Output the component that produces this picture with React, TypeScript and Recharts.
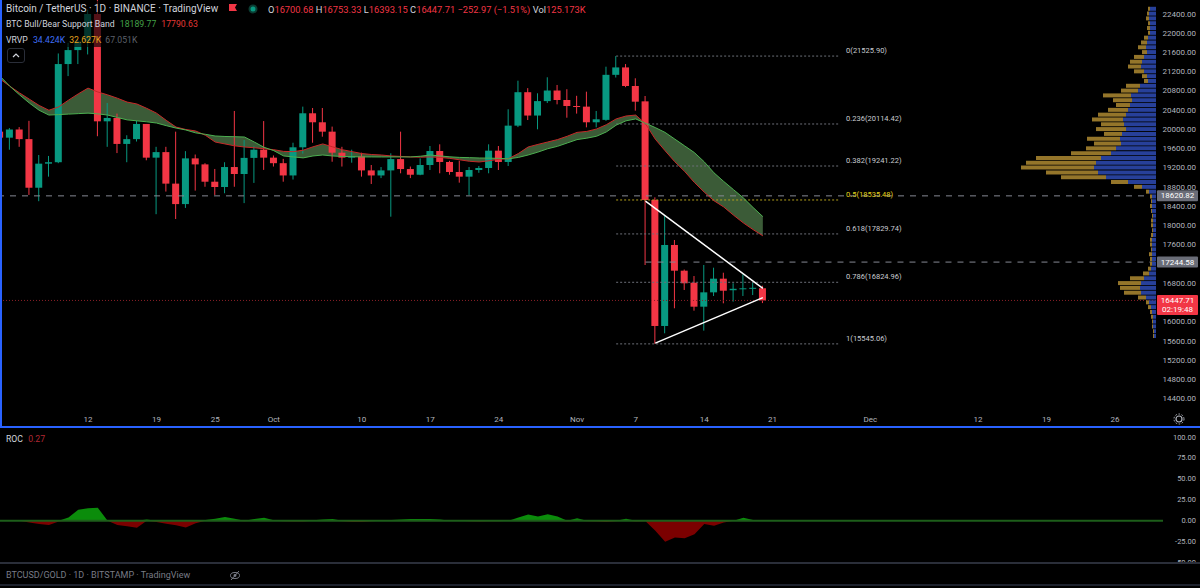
import React from 'react';
import { ComposedChart, BarChart, Bar, Area, Line, XAxis, YAxis, ReferenceLine } from 'recharts';

// days are counted from Sep 12 (the "12" tick); first candle is Sep 3
const FIRST_DAY = -9;
const UP = '#089981';
const DOWN = '#f23645';
const TEXT = '#d1d4dc';
const AXIS_TEXT = '#b2b5be';
const FONT = 'Roboto, "Noto Sans", sans-serif';

const X_DOMAIN: [number, number] = [-9, 109.2];
const Y_DOMAIN: [number, number] = [14171, 22691];

const opens = [
  19955, 19830, 20000, 19800, 18790, 19290, 19320, 21360, 21650, 21830,
  22400, 20170, 20240, 19700, 19800, 20115, 19415, 19530, 18875, 18450,
  19400, 19275, 18915, 18805, 19220, 19075, 19410, 19580, 19415, 19300,
  19045, 19630, 20337, 20150, 19955, 19518, 19415, 19440, 19150, 19045,
  19150, 19385, 19178, 19060, 19262, 19553, 19325, 19117, 19020, 19158,
  19200, 19560, 19325, 20080, 20775, 20290, 20590, 20810, 20613, 20488,
  20475, 20150, 20200, 21136, 21290, 20904, 20585, 18535, 15917, 17600,
  17066, 16816, 16318, 16616, 16900, 16660, 16690, 16700, 16700.68,
];
const highs = [
  20000, 20030, 20050, 20180, 19470, 19450, 21580, 21800, 21860, 22490,
  22800, 20550, 20330, 19880, 20180, 20115, 19640, 19640, 19955, 19550,
  19480, 19300, 19180, 19320, 20385, 19780, 19650, 20175, 19460, 19390,
  19725, 20475, 20447, 20447, 20060, 19640, 19580, 19518, 19262, 19220,
  19505, 19955, 19230, 19400, 19657, 19692, 19350, 19350, 19220, 19240,
  19692, 19657, 20420, 21014, 20860, 20752, 21085, 20925, 20837, 20700,
  20786, 20385, 21305, 21525.9, 21360, 21064, 20696, 18590, 18202, 17704,
  17090, 16955, 17184, 17128, 17024, 16804, 16990, 16820, 16753.33,
];
const lows = [
  19780, 19580, 19640, 18640, 18510, 19020, 19300, 21110, 21360, 21560,
  19860, 19640, 19510, 19320, 19750, 19360, 18240, 18710, 18140, 18370,
  18730, 18810, 18640, 18675, 18810, 18470, 18890, 19160, 19230, 18915,
  18960, 19500, 19725, 19850, 19330, 19230, 19310, 19020, 18868, 18990,
  18188, 19090, 18990, 19050, 19158, 19090, 19060, 18895, 18633, 19100,
  19090, 19158, 19242, 20050, 20197, 20004, 20550, 20523, 20245, 20330,
  20045, 20045, 20180, 21080, 20880, 20391, 17184, 15545.06, 15765, 16285,
  16665, 16235, 15820, 16540, 16388, 16422, 16540, 16560, 16393.15,
];
const closes = [
  19830, 20000, 19800, 18790, 19290, 19320, 21360, 21650, 21830, 22400,
  20170, 20240, 19700, 19800, 20115, 19415, 19530, 18875, 18450, 19400,
  19275, 18915, 18805, 19220, 19075, 19410, 19580, 19415, 19300, 19045,
  19630, 20337, 20150, 19955, 19518, 19415, 19440, 19150, 19045, 19150,
  19385, 19178, 19060, 19262, 19553, 19325, 19117, 19020, 19158, 19200,
  19560, 19325, 20080, 20775, 20290, 20590, 20810, 20613, 20488, 20470,
  20150, 20212, 21136, 21290, 20904, 20578, 18535, 15917, 17600, 17066,
  16804, 16318, 16616, 16900, 16650, 16690, 16700, 16710, 16447.71,
];

// BTC Bull/Bear Support Band
const bandGreen = [
  21110, 20900, 20720, 20550, 20400, 20300, 20310, 20320, 20330, 20340,
  20325, 20300, 20250, 20200, 20180, 20160, 20135, 20080, 20030, 19990,
  19930, 19900, 19865, 19855, 19850, 19844, 19740, 19630, 19560, 19450,
  19430, 19410, 19450, 19470, 19450, 19440, 19435, 19430, 19430, 19429,
  19430, 19430, 19430, 19445, 19470, 19450, 19432, 19420, 19415, 19408,
  19405, 19400, 19390, 19420, 19470, 19530, 19600, 19650, 19720, 19790,
  19820, 19860, 19950, 20090, 20180, 20220, 20130, 20040, 19940, 19800,
  19660, 19520, 19330, 19100, 18920, 18750, 18580, 18380, 18189.77,
];
const bandRed = [
  21050, 20900, 20760, 20630, 20500, 20400, 20470, 20610, 20740, 20860,
  20780, 20720, 20650, 20570, 20530, 20440, 20340, 20190, 20050, 20000,
  19970, 19880, 19740, 19700, 19660, 19636, 19620, 19600, 19580, 19545,
  19540, 19570, 19640, 19700, 19640, 19580, 19540, 19500, 19480, 19470,
  19450, 19440, 19430, 19425, 19430, 19420, 19400, 19370, 19340, 19325,
  19350, 19380, 19395, 19500, 19636, 19690, 19740, 19790, 19860, 19940,
  19960, 20010, 20100, 20220, 20280, 20300, 20120, 19800, 19560, 19330,
  19130, 18900, 18700, 18520, 18390, 18220, 18060, 17920, 17790.63,
];

// ROC of BTCUSD/GOLD (lower chart)
const rocValues = [
  1, 0.5, 0, -2, -4, -5, -1, 4, 13, 15,
  15.5, 0, -5, -6.5, -8.3, 1.5, -1.5, -3.5, -5.5, -8,
  -3, 1, 2.5, 4.4, 2.5, -0.5, 2, 3.5, 0.5, -0.5,
  -1, -1, 0.5, 1.5, 2, -0.5, -1.5, -1.5, -0.5, 0.5,
  1, 1.5, 2, 2, 2, 1.5, 0, 0.5, -0.5, -1,
  -0.5, -0.5, 0, 4, 7.5, 5, 7.6, 5, -1, 3,
  -0.5, -1, -1.5, -0.5, 2.5, -1, -0.5, -12, -25, -20,
  -21, -16, -4, -6, -2, 0, 3.5, 1, 0.27,
];

const tickDays = [0, 7, 13, 19, 28, 35, 42, 50, 56, 63, 70, 80, 91, 98, 105];
const tickLabels = ['12', '19', '25', 'Oct', '10', '17', '24', 'Nov', '7', '14', '21', 'Dec', '12', '19', '26'];
const priceTicks = [14400, 14800, 15200, 15600, 16000, 16800, 17600, 18000, 18400, 18800, 19200, 19600, 20000, 20400, 20800, 21200, 21600, 22000, 22400];
const rocTicks = [-50, -25, 0, 25, 50, 75, 100];

const fibRatios = ['0', '0.236', '0.382', '0.5', '0.618', '0.786', '1'];
const fibPrices = [21525.9, 20114.42, 19241.22, 18535.48, 17829.74, 16824.96, 15545.06];

// visible range volume profile, rows of 100
const profilePrices = [
  22500, 22400, 22300, 22200, 22100, 22000, 21900, 21800, 21700, 21600,
  21500, 21400, 21300, 21200, 21100, 21000, 20900, 20800, 20700, 20600,
  20500, 20400, 20300, 20200, 20100, 20000, 19900, 19800, 19700, 19600,
  19500, 19400, 19300, 19200, 19100, 19000, 18900, 18800, 18700, 18600,
  18500, 18400, 18300, 18200, 18100, 18000, 17900, 17800, 17700, 17600,
  17500, 17400, 17300, 17200, 17100, 17000, 16900, 16800, 16700, 16600,
  16500, 16400, 16300, 16200, 16100, 16000, 15900, 15800, 15700,
];
const profileUp = [
  6, 7, 7, 6, 6, 6, 8, 9, 10, 9,
  12, 14, 15, 12, 9, 8, 16, 18, 25, 24,
  26, 28, 30, 33, 32, 30, 34, 36, 35, 40,
  45, 55, 60, 62, 58, 50, 28, 14, 7, 4,
  4, 4, 4, 3, 3, 3, 3, 3, 4, 4,
  4, 4, 4, 4, 5, 7, 12, 15, 16, 15,
  10, 7, 5, 4, 3, 3, 3, 2, 2,
];
const profileDown = [
  2, 2, 3, 2, 3, 2, 4, 6, 8, 5,
  10, 12, 13, 10, 5, 4, 14, 17, 28, 19,
  14, 20, 28, 31, 23, 30, 18, 33, 27, 30,
  40, 65, 70, 73, 52, 45, 17, 8, 3, 2,
  1, 2, 1, 1, 2, 2, 1, 2, 2, 2,
  1, 3, 2, 2, 3, 6, 14, 23, 20, 17,
  8, 3, 3, 2, 2, 1, 1, 1, 1,
];

const rows = opens.map((open, i) => ({
  d: FIRST_DAY + i,
  open,
  high: highs[i],
  low: lows[i],
  close: closes[i],
  range: [lows[i], highs[i]],
  green: bandGreen[i],
  red: bandRed[i],
  band: [bandRed[i], bandGreen[i]],
  rocPos: Math.max(rocValues[i], 0),
  rocNeg: Math.min(rocValues[i], 0),
}));

const profileRows = profilePrices.map((price, i) => ({ price, up: profileUp[i], down: profileDown[i] }));

const Candle = (props: any) => {
  const { x, y, width, height, payload } = props;
  if (x == null || y == null) return null;
  const top = Math.min(y, y + height);
  const h = Math.abs(height);
  const span = payload.high - payload.low || 1;
  const py = (v: number) => top + ((payload.high - v) / span) * h;
  const cx = x + width / 2;
  const color = payload.close >= payload.open ? UP : DOWN;
  const bTop = py(Math.max(payload.open, payload.close));
  const bBot = py(Math.min(payload.open, payload.close));
  return (
    <g>
      <line x1={cx} x2={cx} y1={top} y2={top + h} stroke={color} strokeWidth={1} />
      <rect x={cx - 3.5} y={bTop} width={7} height={Math.max(1, bBot - bTop)} fill={color} />
    </g>
  );
};

const DateTick = ({ x, y, payload }: any) => (
  <text x={x} y={y + 1} textAnchor="middle" dominantBaseline="central" fill={AXIS_TEXT} fontSize={8} fontFamily={FONT}>
    {tickLabels[tickDays.indexOf(payload.value)]}
  </text>
);

const PriceTick = ({ y, payload }: any) => (
  <text x={1196} y={y} textAnchor="end" dominantBaseline="central" fill={AXIS_TEXT} fontSize={8} fontFamily={FONT}>
    {payload.value.toFixed(2)}
  </text>
);

const RocTick = ({ y, payload }: any) => (
  <text x={1196} y={y} textAnchor="end" dominantBaseline="central" fill={AXIS_TEXT} fontSize={7.5} fontFamily={FONT}>
    {payload.value.toFixed(2)}
  </text>
);

const fibLabel = (text: string, color: string) => (props: any) => {
  const vb = props.viewBox;
  return (
    <text x={vb.x + vb.width + 6} y={vb.y - 3} fill={color} fontSize={7.5} fontFamily={FONT}>
      {text}
    </text>
  );
};

const axisBox = (text: string, bg: string, sub?: string) => (props: any) => {
  const vb = props.viewBox;
  const x = vb.x + vb.width;
  const y = vb.y;
  return (
    <g>
      <rect x={x + 1} y={y - 5.5} width={41} height={sub ? 20 : 11} fill={bg} rx={1} />
      <text x={x + 21.5} y={y} textAnchor="middle" dominantBaseline="central" fill="#fff" fontSize={8} fontFamily={FONT}>
        {text}
      </text>
      {sub && (
        <text x={x + 21.5} y={y + 9.5} textAnchor="middle" dominantBaseline="central" fill="#fff" fontSize={8} fontFamily={FONT}>
          {sub}
        </text>
      )}
    </g>
  );
};

const abs = (left: number, top: number, extra: any = {}) => ({ position: 'absolute' as const, left, top, ...extra });

export default function App() {
  return (
    <div style={{ position: 'absolute', left: 0, top: 0, width: 1200, height: 588, background: '#000', overflow: 'hidden', fontFamily: FONT }}>
      <style>{'body{margin:0;background:#000;}'}</style>

      <div style={abs(0, 0)}>
        <ComposedChart width={1200} height={428} data={rows} margin={{ top: 0, right: 0, bottom: 0, left: 0 }}>
          <XAxis dataKey="d" type="number" domain={X_DOMAIN} ticks={tickDays} interval={0} height={18} tickLine={false} axisLine={false} tick={<DateTick />} allowDataOverflow />
          <YAxis orientation="right" width={44} domain={Y_DOMAIN} ticks={priceTicks} interval={0} tickLine={false} axisLine={false} tick={<PriceTick />} allowDataOverflow />
          <ReferenceLine y={18620.82} stroke="#868993" strokeDasharray="6 6" label={axisBox('18620.82', '#6a6d78')} />
          <ReferenceLine segment={[{ x: 57, y: 17244.58 }, { x: 109.2, y: 17244.58 }]} stroke="#868993" strokeDasharray="6 6" label={axisBox('17244.58', '#6a6d78')} />
          <ReferenceLine y={16447.71} stroke="#8a1f27" strokeDasharray="1 2" label={axisBox('16447.71', DOWN, '02:19:48')} />
          {fibPrices.map((p, i) => (
            <ReferenceLine
              key={fibRatios[i]}
              segment={[{ x: 54, y: p }, { x: 76.9, y: p }]}
              stroke={fibRatios[i] === '0.5' ? '#b5a11c' : '#6d7079'}
              strokeDasharray="2 2"
              label={fibLabel(`${fibRatios[i]}(${p.toFixed(2)})`, fibRatios[i] === '0.5' ? '#e3d31b' : '#c9cbd1')}
            />
          ))}
          <Area dataKey="band" type="linear" stroke="none" fill="#3b5b37" fillOpacity={1} isAnimationActive={false} />
          <Line dataKey="red" type="linear" stroke="#c62828" strokeWidth={1} dot={false} isAnimationActive={false} />
          <Line dataKey="green" type="linear" stroke="#4caf50" strokeWidth={1} dot={false} isAnimationActive={false} />
          <Bar dataKey="range" barSize={7} shape={(p: any) => <Candle {...p} />} isAnimationActive={false} />
          <ReferenceLine segment={[{ x: 57, y: 18510 }, { x: 69, y: 16700 }]} stroke="#ffffff" strokeWidth={1.5} />
          <ReferenceLine segment={[{ x: 58, y: 15560 }, { x: 69, y: 16505 }]} stroke="#ffffff" strokeWidth={1.5} />
        </ComposedChart>
      </div>

      <div style={abs(0, 0, { pointerEvents: 'none' })}>
        <BarChart layout="vertical" width={1156} height={410} data={profileRows} margin={{ top: 0, right: 0, bottom: 0, left: 0 }}>
          <XAxis type="number" domain={[0, 1156]} reversed hide />
          <YAxis type="number" dataKey="price" domain={Y_DOMAIN} reversed hide allowDataOverflow />
          <Bar dataKey="up" stackId="v" fill="#27409a" barSize={4} isAnimationActive={false} />
          <Bar dataKey="down" stackId="v" fill="#94752a" barSize={4} isAnimationActive={false} />
        </BarChart>
      </div>

      {/* legend backgrounds */}
      <div style={abs(3, 1, { width: 595, height: 16, background: 'rgba(0,0,0,0.65)' })} />
      <div style={abs(3, 17, { width: 188, height: 15, background: 'rgba(0,0,0,0.65)' })} />
      <div style={abs(3, 32, { width: 130, height: 15, background: 'rgba(0,0,0,0.65)' })} />

      <div style={abs(6, 3, { fontSize: 10, color: TEXT, whiteSpace: 'nowrap', lineHeight: '12px' })}>
        Bitcoin / TetherUS · 1D · BINANCE · TradingView
      </div>
      <svg style={abs(229, 4)} width={10} height={10}>
        <path d="M0 0 H8 L6 3.5 L8 7 H0 Z" fill={DOWN} />
      </svg>
      <svg style={abs(248, 4)} width={10} height={10}>
        <circle cx={5} cy={5} r={4.5} fill="#0b3d33" />
        <circle cx={5} cy={5} r={2.5} fill={UP} />
      </svg>
      <div style={abs(268, 4, { fontSize: 9.3, color: DOWN, whiteSpace: 'nowrap', lineHeight: '11px' })}>
        <span style={{ color: TEXT }}>O</span>16700.68 <span style={{ color: TEXT }}>H</span>16753.33{' '}
        <span style={{ color: TEXT }}>L</span>16393.15 <span style={{ color: TEXT }}>C</span>16447.71 −252.97 (−1.51%){' '}
        <span style={{ color: TEXT }}>Vol</span>125.173K
      </div>
      <div style={abs(6, 19, { fontSize: 8.7, color: TEXT, whiteSpace: 'nowrap', lineHeight: '11px' })}>
        BTC Bull/Bear Support Band <span style={{ color: '#43a047', marginLeft: 3 }}>18189.77</span>
        <span style={{ color: '#e53935', marginLeft: 5 }}>17790.63</span>
      </div>
      <div style={abs(6, 35, { fontSize: 8.7, color: TEXT, whiteSpace: 'nowrap', lineHeight: '11px' })}>
        VRVP <span style={{ color: '#3f6ef5', marginLeft: 3 }}>34.424K</span>
        <span style={{ color: '#e6a41e', marginLeft: 4 }}>32.627K</span>
        <span style={{ color: '#5d606b', marginLeft: 4 }}>67.051K</span>
      </div>
      <div style={abs(7, 48, { width: 16, height: 13, border: '1px solid #2a2e39', borderRadius: 3 })}>
        <svg width={16} height={13} style={{ display: 'block' }}>
          <polyline points="5,8 8,5 11,8" fill="none" stroke={TEXT} strokeWidth={1.2} />
        </svg>
      </div>
      <svg style={abs(1173, 413)} width={12} height={12}>
        <circle cx={6} cy={6} r={3} fill="none" stroke={AXIS_TEXT} strokeWidth={1.2} />
        <circle cx={6} cy={6} r={5} fill="none" stroke={AXIS_TEXT} strokeWidth={1} strokeDasharray="1.6 1.6" />
      </svg>

      {/* selected chart frame */}
      <div style={abs(0, 0, { width: 2, height: 428, background: '#2962ff' })} />
      <div style={abs(0, 426, { width: 1200, height: 2, background: '#2962ff' })} />

      <div style={abs(0, 428)}>
        <ComposedChart width={1200} height={135} data={rows} margin={{ top: 0, right: 0, bottom: 0, left: 0 }}>
          <XAxis dataKey="d" type="number" domain={[-9, 109.9]} hide allowDataOverflow />
          <YAxis orientation="right" width={37} domain={[-50.5, 110.8]} ticks={rocTicks} interval={0} tickLine={false} axisLine={false} tick={<RocTick />} allowDataOverflow />
          <Area dataKey="rocPos" type="linear" baseValue={0} stroke="none" fill="#0b8c0b" fillOpacity={1} isAnimationActive={false} />
          <Area dataKey="rocNeg" type="linear" baseValue={0} stroke="none" fill="#7b0000" fillOpacity={1} isAnimationActive={false} />
          <ReferenceLine y={0} stroke="#1d5e1a" strokeWidth={2} />
        </ComposedChart>
      </div>
      <div style={abs(6, 434, { fontSize: 8.7, color: TEXT, whiteSpace: 'nowrap', lineHeight: '11px' })}>
        ROC <span style={{ color: '#b22833', marginLeft: 3 }}>0.27</span>
      </div>

      <div style={abs(0, 562, { width: 1200, height: 2, background: '#2a2e39' })} />
      <div style={abs(6, 569, { fontSize: 9, color: '#787b86', whiteSpace: 'nowrap', lineHeight: '12px' })}>
        BTCUSD/GOLD · 1D · BITSTAMP · TradingView
      </div>
      <svg style={abs(229, 570)} width={12} height={11}>
        <ellipse cx={6} cy={5.5} rx={4.5} ry={3} fill="none" stroke="#787b86" strokeWidth={1} />
        <circle cx={6} cy={5.5} r={1.4} fill="#787b86" />
        <line x1={2} y1={10} x2={10} y2={1} stroke="#787b86" strokeWidth={1} />
      </svg>
      <div style={abs(0, 584, { width: 1200, height: 2, background: '#1e222d' })} />
    </div>
  );
}
